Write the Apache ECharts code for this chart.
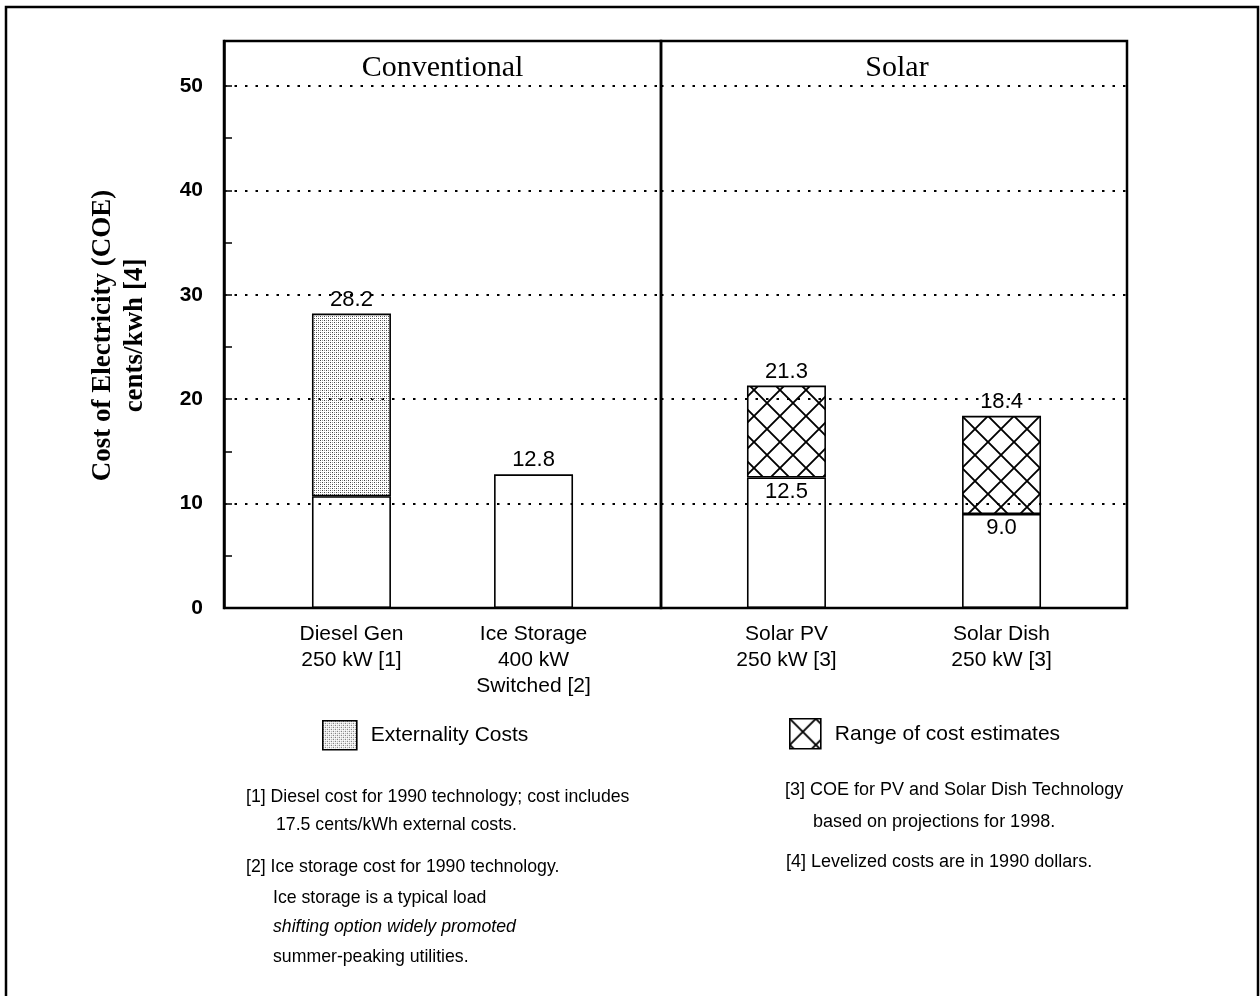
<!DOCTYPE html>
<html><head><meta charset="utf-8">
<script src="https://cdn.jsdelivr.net/npm/echarts@6/dist/echarts.min.js"></script>
<style>html,body{margin:0;padding:0;background:#fff}#c{width:1260px;height:996px}</style>
</head><body><div id="c"></div>
<script>
// ---------- data ----------
const categories = ['Diesel Gen\n250 kW [1]', 'Ice Storage\n400 kW\nSwitched [2]', 'Solar PV\n250 kW [3]', 'Solar Dish\n250 kW [3]'];
const panelNames = ['Conventional', 'Solar'];
const panelOfCategory = [0, 0, 1, 1];
const baseCost = [10.7, 12.8, 12.5, 9.0];
const externalityCost = [17.5, null, null, null];
const estimateRange = [null, null, 8.8, 9.4];
const totalLabels = ['28.2', '12.8', '21.3', '18.4'];
const baseLabels = [null, null, '12.5', '9.0'];
const yTickValues = [0, 10, 20, 30, 40, 50];
const seriesNames = ['Externality Costs', 'Range of cost estimates'];
const yAxisTitle = 'Cost of Electricity (COE)\ncents/kwh [4]';
const notesLeft = [
  '[1] Diesel cost for 1990 technology; cost includes',
  '17.5 cents/kWh external costs.',
  '[2] Ice storage cost for 1990 technology.',
  'Ice storage is a typical load',
  'shifting option widely promoted',
  'summer-peaking utilities.'
];
const notesRight = [
  '[3] COE for PV and Solar Dish Technology',
  'based on projections for 1998.',
  '[4] Levelized costs are in 1990 dollars.'
];

// ---------- layout ----------
const NARROW = "'Liberation Sans Narrow','Arial Narrow','Liberation Sans',sans-serif";
const SERIF = "'Liberation Serif','Times New Roman',serif";
const plotTop = 41, plotBottom = 608, plotLeft = 224, divider = 661, plotRight = 1127;
const slotCount = [12, 13];
const slotOf = [3, 8, 3, 9];
const yMax = 54.3;

function makeStipple() {
  const c = document.createElement('canvas'); c.width = 4; c.height = 4;
  const g = c.getContext('2d');
  g.fillStyle = '#444'; g.fillRect(0, 0, 1, 1); g.fillRect(2, 2, 1, 1);
  g.fillStyle = '#999'; g.fillRect(2, 0, 1, 1); g.fillRect(0, 2, 1, 1);
  return c;
}
function makeHatch() {
  const s = 26, c = document.createElement('canvas'); c.width = s; c.height = s;
  const g = c.getContext('2d');
  g.strokeStyle = '#000'; g.lineWidth = 1.9;
  g.beginPath(); g.moveTo(0, 0); g.lineTo(s, s); g.moveTo(s, 0); g.lineTo(0, s); g.stroke();
  return c;
}
const fills = [{ image: makeStipple(), repeat: 'repeat' }, { image: makeHatch(), repeat: 'repeat' }];
const upperValues = [externalityCost, estimateRange];

const labelStyle = { fontFamily: NARROW, fontSize: 22, color: '#000' };

const xAxes = [], yAxes = [], grids = [], series = [];
[0, 1].forEach(p => {
  grids.push({
    left: p === 0 ? plotLeft : divider,
    right: 1260 - (p === 0 ? divider : plotRight),
    top: plotTop, bottom: 996 - plotBottom,
    show: true, borderColor: '#000', borderWidth: 2.5, backgroundColor: 'transparent'
  });
  const slots = new Array(slotCount[p]).fill('');
  const baseData = new Array(slotCount[p]).fill(null);
  const upperData = new Array(slotCount[p]).fill(null);
  categories.forEach((cat, i) => {
    if (panelOfCategory[i] !== p) return;
    const s = slotOf[i];
    slots[s] = cat;
    const hasUpper = upperValues[p][i] != null;
    const bl = hasUpper
      ? (baseLabels[i] ? { show: true, position: 'insideTop', distance: 3, formatter: baseLabels[i], ...labelStyle } : { show: false })
      : { show: true, position: 'top', distance: 3, formatter: totalLabels[i], ...labelStyle };
    baseData[s] = { value: baseCost[i], label: bl };
    if (hasUpper) {
      upperData[s] = { value: upperValues[p][i], label: { show: true, position: 'top', distance: 3, formatter: totalLabels[i], ...labelStyle } };
    }
  });
  xAxes.push({
    type: 'category', gridIndex: p, data: slots,
    axisLine: { show: false }, axisTick: { show: false },
    axisLabel: { interval: 0, fontFamily: NARROW, fontSize: 21, lineHeight: 26, color: '#000', margin: 13 }
  });
  const dotted = { show: true, lineStyle: { color: '#000', width: 2, type: [2.5, 8] } };
  yAxes.push({
    type: 'value', gridIndex: p, min: 0, max: yMax, interval: 10,
    axisLine: { show: p === 0, lineStyle: { color: '#000', width: 2.5 } },
    axisTick: { show: false },
    axisLabel: p === 0 ? {
      fontFamily: NARROW, fontWeight: 'bold', fontSize: 21, color: '#000', margin: 21,
      formatter: v => (yTickValues.indexOf(v) >= 0 ? String(v) : '')
    } : { show: false },
    splitLine: dotted,
    name: p === 0 ? yAxisTitle : '',
    nameLocation: 'middle', nameGap: 73,
    nameTextStyle: { fontFamily: SERIF, fontWeight: 'bold', fontSize: 27, lineHeight: 32, color: '#000', padding: [0, 22, 0, 0] }
  });
  series.push({
    name: 'Base cost', type: 'bar', xAxisIndex: p, yAxisIndex: p, stack: 'panel' + p,
    barWidth: 79, data: baseData,
    itemStyle: { color: 'rgba(255,255,255,0)', borderColor: '#000', borderWidth: 1.6 }
  });
  series.push({
    name: seriesNames[p], type: 'bar', xAxisIndex: p, yAxisIndex: p, stack: 'panel' + p,
    barWidth: 79, data: upperData,
    itemStyle: { color: fills[p], borderColor: '#000', borderWidth: 1.6 }
  });
});
// minor/major ticks on the left axis (every 5 units)
yAxes.push({
  type: 'value', gridIndex: 0, min: 0, max: yMax, interval: 5, position: 'left',
  axisLine: { show: false },
  axisTick: { show: true, inside: true, length: 8, lineStyle: { color: '#000', width: 1.5 } },
  axisLabel: { show: false }, splitLine: { show: false }
});

const graphics = [
  { type: 'rect', shape: { x: 6, y: 7, width: 1252, height: 1010 }, style: { fill: 'none', stroke: '#000', lineWidth: 2.5 }, silent: true },
  { type: 'text', x: (plotLeft + divider) / 2, y: 68, style: { text: panelNames[0], font: '30px ' + SERIF, fill: '#000', textAlign: 'center', textVerticalAlign: 'middle' } },
  { type: 'text', x: (divider + plotRight) / 2 + 3, y: 68, style: { text: panelNames[1], font: '30px ' + SERIF, fill: '#000', textAlign: 'center', textVerticalAlign: 'middle' } }
];
const leftPos = [[246, 797], [276, 825], [246, 867], [273, 898], [273, 927], [273, 957]];
notesLeft.forEach((t, i) => graphics.push({
  type: 'text', x: leftPos[i][0], y: leftPos[i][1],
  style: { text: t, font: (i === 4 ? 'italic ' : '') + '17.7px ' + NARROW, fill: '#000', textVerticalAlign: 'middle' }
}));
const rightPos = [[785, 790], [813, 822], [786, 862]];
notesRight.forEach((t, i) => graphics.push({
  type: 'text', x: rightPos[i][0], y: rightPos[i][1],
  style: { text: t, font: '18px ' + NARROW, fill: '#000', textVerticalAlign: 'middle' }
}));

const legendText = { fontFamily: NARROW, fontSize: 21, color: '#000', padding: [0, 0, 0, 9] };
const chart = echarts.init(document.getElementById('c'), null, { renderer: 'canvas' });
chart.setOption({
  animation: false,
  backgroundColor: '#fff',
  grid: grids, xAxis: xAxes, yAxis: yAxes, series: series,
  legend: [
    { data: [seriesNames[0]], left: 322, top: 720, padding: 0, itemWidth: 34, itemHeight: 29, icon: 'rect', selectedMode: false, textStyle: legendText, itemStyle: { borderColor: '#000', borderWidth: 1.6 } },
    { data: [seriesNames[1]], left: 789, top: 718, padding: 0, itemWidth: 31, itemHeight: 30, icon: 'rect', selectedMode: false, textStyle: legendText, itemStyle: { borderColor: '#000', borderWidth: 1.6 } }
  ],
  graphic: graphics
});
</script></body></html>
